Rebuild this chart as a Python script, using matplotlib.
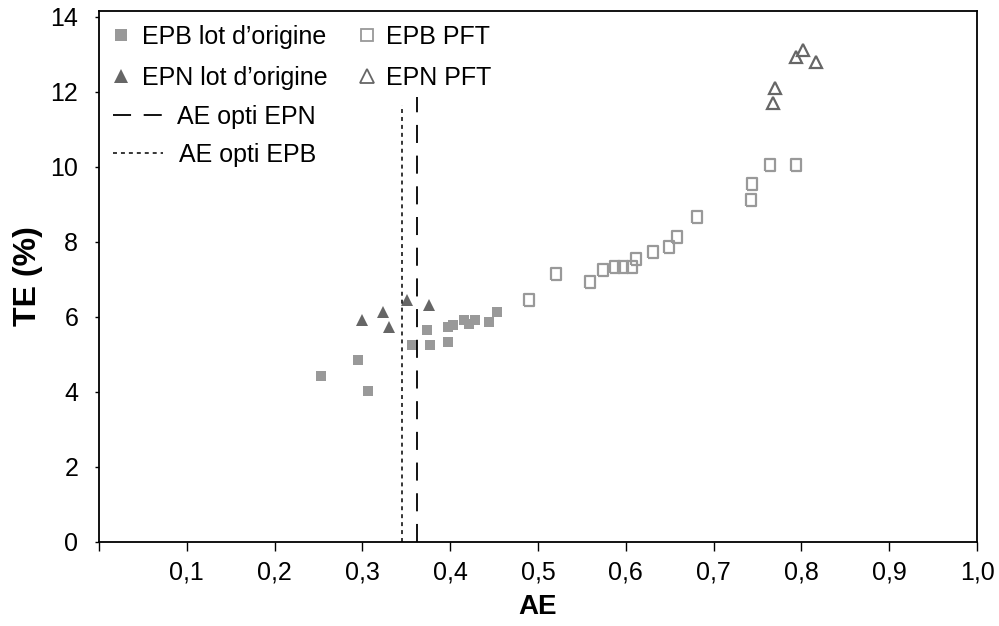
import matplotlib
matplotlib.use('Agg')
import matplotlib.pyplot as plt
from matplotlib.lines import Line2D
from matplotlib.ticker import FuncFormatter

plt.rcParams['font.family'] = ['Liberation Sans', 'DejaVu Sans']

# EPB lot d'origine (carrés pleins)
epb_orig_x = [0.253, 0.295, 0.306, 0.356, 0.373, 0.377, 0.398, 0.398, 0.403, 0.416, 0.421, 0.428, 0.444, 0.453]
epb_orig_y = [4.43, 4.85, 4.03, 5.25, 5.65, 5.25, 5.74, 5.34, 5.77, 5.92, 5.82, 5.92, 5.85, 6.12]

# EPN lot d'origine (triangles pleins)
epn_orig_x = [0.299, 0.324, 0.330, 0.351, 0.376]
epn_orig_y = [5.92, 6.12, 5.72, 6.44, 6.32]

# EPB PFT (carrés vides)
epb_pft_x = [0.490, 0.520, 0.559, 0.574, 0.588, 0.597, 0.607, 0.612, 0.631, 0.649, 0.658, 0.681, 0.743, 0.744, 0.764, 0.794]
epb_pft_y = [6.45, 7.15, 6.92, 7.25, 7.34, 7.34, 7.32, 7.54, 7.72, 7.85, 8.14, 8.65, 9.12, 9.55, 10.05, 10.05]

# EPN PFT (triangles vides)
epn_pft_x = [0.768, 0.770, 0.794, 0.802, 0.817]
epn_pft_y = [11.7, 12.1, 12.93, 13.12, 12.78]

# AE optimum
ae_opti_epn = 0.362
ae_opti_epb = 0.345
haut_epn = 11.85
haut_epb = 11.65

rect = [(-0.75, -1), (0.75, -1), (0.75, 1), (-0.75, 1), (-0.75, -1)]
W, H = 999, 626

fig = plt.figure(figsize=(9.99, 6.26), dpi=100)
ax = fig.add_axes([0.0991, 0.1342, 0.8789, 0.8482])

ax.plot(epb_orig_x, epb_orig_y, linestyle='none', marker='s', markersize=7.5,
        color='#999999', markeredgewidth=0)
ax.plot(epn_orig_x, epn_orig_y, linestyle='none', marker='^', markersize=9,
        color='#666666', markeredgewidth=0)
ax.plot(epb_pft_x, epb_pft_y, linestyle='none', marker=rect, markersize=9,
        markerfacecolor='none', markeredgecolor='#999999', markeredgewidth=1.6)
ax.plot(epn_pft_x, epn_pft_y, linestyle='none', marker='^', markersize=9,
        markerfacecolor='none', markeredgecolor='#666666', markeredgewidth=1.6)

ax.plot([ae_opti_epn, ae_opti_epn], [0, haut_epn], color='black', linewidth=1.3,
        dashes=(10, 7))
ax.plot([ae_opti_epb, ae_opti_epb], [0, haut_epb], color='black', linewidth=1.1,
        dashes=(2.6, 2.6))

ax.set_xlim(0, 1.0)
ax.set_ylim(0, 14.15)
ax.set_xticks([0.1 * i for i in range(0, 11)])
ax.set_yticks(range(0, 15, 2))
ax.xaxis.set_major_formatter(FuncFormatter(lambda v, p: '' if v < 0.05 else f'{v:.1f}'.replace('.', ',')))
ax.tick_params(axis='x', direction='out', length=6.5, width=1, labelsize=18, pad=7)
ax.tick_params(axis='y', direction='out', length=3, width=1, labelsize=18, pad=12)
for s in ax.spines.values():
    s.set_linewidth(1.3)

ax.set_xlabel('AE', fontsize=20, fontweight='bold', labelpad=7)
ax.set_ylabel('TE (%)', fontsize=23, fontweight='bold', labelpad=5)


# Légende : une entrée à la fois, placée comme dans l'original
def entree(handle, texte, x0, yc, hl, pad):
    lg = fig.legend([handle], [texte], loc='center left',
                    bbox_to_anchor=(x0 / W, 1 - yc / H), frameon=False,
                    fontsize=18, handlelength=hl, handletextpad=pad,
                    borderpad=0, borderaxespad=0, handleheight=0.7)
    return lg


entree(Line2D([], [], linestyle='none', marker='s', markersize=9, color='#999999',
              markeredgewidth=0), "EPB lot d’origine", 108, 37, 1.0, 0.35)
entree(Line2D([], [], linestyle='none', marker='^', markersize=10, color='#666666',
              markeredgewidth=0), "EPN lot d’origine", 108, 78, 1.0, 0.35)
entree(Line2D([], [], color='black', linewidth=1.3, dashes=(10, 7)),
       'AE opti EPN', 113, 117, 2.0, 0.55)
entree(Line2D([], [], color='black', linewidth=1.1, dashes=(2.6, 2.6)),
       'AE opti EPB', 113, 155, 2.0, 0.65)
entree(Line2D([], [], linestyle='none', marker='s', markersize=8.5, markerfacecolor='none',
              markeredgecolor='#999999', markeredgewidth=1.3), 'EPB PFT', 354, 37, 1.0, 0.3)
entree(Line2D([], [], linestyle='none', marker='^', markersize=10, markerfacecolor='none',
              markeredgecolor='#666666', markeredgewidth=1.3), 'EPN PFT', 354, 78, 1.0, 0.3)

fig.savefig('out.png', dpi=100)
